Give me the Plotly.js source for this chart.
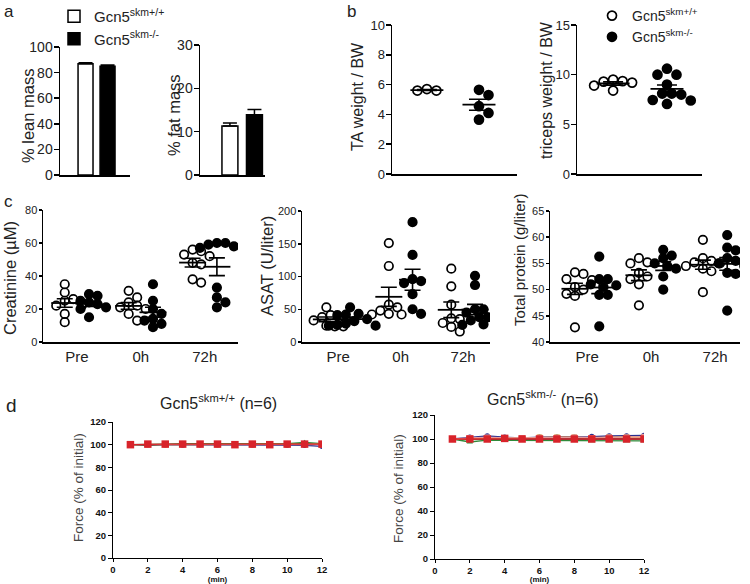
<!DOCTYPE html>
<html><head><meta charset="utf-8">
<script src="https://cdn.plot.ly/plotly-3.0.1.min.js"></script>
<style>html,body{margin:0;padding:0;background:#fff}#chart{width:750px;height:584px}</style>
</head><body><div id="chart"></div>
<script>
// ---------------- data ----------------
const groupNames = ['Gcn5<sup>skm+/+</sup>', 'Gcn5<sup>skm-/-</sup>'];
const leanMean = [87, 85];
const leanSem = [0.6, 0.9];
const fatMean = [11.3, 13.9];
const fatSem = [0.7, 1.2];

const taWT = [5.6, 5.7, 5.6];
const taKO = [5.3, 5.65, 4.55, 4.1, 3.65];
const tricepsWT = [8.9, 9.35, 9.3, 9.2, 9.5, 8.4];
const tricepsKO = [10.6, 10.0, 10.0, 9.0, 8.1, 8.0, 8.1, 7.05, 7.45, 7.4];

const timepoints = ['Pre', '0h', '72h'];
const creatWT = [[35,30,26,25,22,22,17,12],[31,27,24,22,21,20,17,13],[56,55,53,52,48,47,38,36]];
const creatKO = [[29,28,25,24,23,21,20,15],[35,25,20,17,14,13,11,9],[60,60,59,58,57,57,33,27,24,21]];
const asatWT = [[53,41,38,38,33,25,24,24],[151,116,57,53,48,43,42,42],[112,85,57,36,35,29,23,16]];
const asatKO = [[53,43,42,41,35,32,28,26,25,25],[183,133,96,93,90,73,50,43],[101,87,50,50,45,38,38,33,27,26]];
const protWT = [[53.3,53,52,51.8,50.5,50,49.2,48.8,42.8],[56,55.2,55,53.2,52.5,52,51,47],[59.5,56,55.5,55.2,55,54.5,54,53.5,49.5]];
const protKO = [[56.3,52,52,51,50.8,50.5,49,49,43],[57.6,56.5,56,55,54.5,54,52.5,50],[60.4,58,57.5,56,55.5,55,54.5,53.2,53,46]];

const minutes = [1,2,3,4,5,6,7,8,9,10,11,12];
const forceWT = {
  blue:   [100,100,100,99.5,100,100,99.5,99.5,99.5,99.5,99.5,98.5],
  black:  [100,99.5,100,100,100,100,100,100.5,100,100.5,101,100],
  green:  [100,100,100.5,101,101,100.5,100.5,101,100.5,101,102,101],
  orange: [100,100,100,100.5,100.5,100,100,100,100,100,100.5,100.5],
  pink:   [100,100,100.5,100,100.5,100.5,100,100,100,100.5,100.5,100],
  red:    [100,100.5,100.5,100.5,100.5,100.5,100,100.5,100,100.5,100.5,100.5]
};
const forceKO = {
  blue:   [100,101.5,102.5,101.5,101,101.5,101.5,101.5,102,102.5,102.5,103],
  green:  [100,97.5,99,99,99,99,99,99,98.5,98.5,98.5,98.5],
  black:  [100,100,100,100,100,100,100,100,100,100,100,100],
  orange: [100,100.5,101,101,101,101.5,101.5,101.5,101,101.5,101.5,101.5],
  pink:   [100,101,101.5,101,101,101,101,101.5,101,101.5,101.5,102],
  red:    [100,100,100,100.5,100,100,100,100,100,100,100,100]
};

// ---------------- layout geometry ----------------
const W = 750, H = 584;
const FONT = 'Liberation Sans, Arial, sans-serif';
const G = {
  lean:  {x:[60,130],  y:[47,175],  xr:[-1.16,2.02], yr:[0,100]},
  fat:   {x:[200,265], y:[45,175],  xr:[-1.22,1.43], yr:[0,30]},
  ta:    {x:[392,517], y:[25,174],  xr:[-0.67,1.73], yr:[0,10]},
  tri:   {x:[577,702], y:[25,174],  xr:[-0.67,1.65], yr:[0,15]},
  creat: {x:[43,238],  y:[210,342], xr:[-0.53,2.52],  yr:[0,80]},
  asat:  {x:[302,490], y:[211,342], xr:[-0.58,2.43], yr:[0,200]},
  prot:  {x:[550,740], y:[211,342], xr:[-0.58,2.39], yr:[40,65]},
  fl:    {x:[113,322], y:[422,558], xr:[0,12], yr:[0,120]},
  fr:    {x:[435,644], y:[415,559], xr:[0,12], yr:[0,120]}
};
const xd = g => [g.x[0]/W, g.x[1]/W];
const yd = g => [1-g.y[1]/H, 1-g.y[0]/H];

function meanSem(a){
  const n=a.length, m=a.reduce((s,v)=>s+v,0)/n;
  const sd=Math.sqrt(a.reduce((s,v)=>s+(v-m)*(v-m),0)/(n-1));
  return {m, s: sd/Math.sqrt(n)};
}
function swarm(vals, cx, g, diam){
  const sx=(g.x[1]-g.x[0])/(g.xr[1]-g.xr[0]);
  const sy=(g.y[1]-g.y[0])/(g.yr[1]-g.yr[0]);
  const idx=vals.map((v,i)=>i).sort((a,b)=>vals[b]-vals[a]);
  const placed=[]; const out=new Array(vals.length);
  const step=diam*0.5;
  idx.forEach(i=>{
    const py=vals[i]*sy;
    for(let k=0;k<80;k++){
      const off=(k%2?1:-1)*Math.ceil(k/2)*step;
      if(placed.every(p=>(p.ox-off)**2+(p.py-py)**2>=diam*diam*0.92)){
        placed.push({ox:off,py}); out[i]=cx+off/sx; break;
      }
    }
  });
  return out;
}

const traces=[];
// ---- panel a bars ----
[['lean',leanMean,leanSem,'x','y',0.68],['fat',fatMean,fatSem,'x2','y2',0.65]].forEach(([key,mean,sem,xa,ya,bw],pi)=>{
  [0,1].forEach(gi=>{
    traces.push({type:'bar',x:[gi],y:[mean[gi]],width:bw,xaxis:xa,yaxis:ya,
      name:groupNames[gi],legend:'legend',showlegend:pi===0,
      marker:{color:gi?'#000':'#fff',line:{color:'#000',width:1.5}},
      error_y:{type:'data',symmetric:false,array:[sem[gi]],arrayminus:[0],color:'#000',thickness:1.5,width:7}});
  });
});

// ---- dot plots helper ----
function addDots(g, xa, ya, groups, centers, diam, msize, meanLen, cap, showleg){
  const means=[];
  groups.forEach((vals,gi)=>{
    traces.push({type:'scatter',mode:'markers',xaxis:xa,yaxis:ya,
      x:swarm(vals,centers[gi],g,diam),y:vals,
      name:groupNames[gi%2],legend:'legend2',showlegend:!!showleg && gi<2,
      marker:{symbol:gi%2?'circle':'circle-open',size:msize,color:'#000',line:{color:'#000',width:1.7}}});
    means.push([centers[gi],meanSem(vals)]);
  });
  means.forEach(([cx,ms])=>{
    traces.push({type:'scatter',mode:'markers',xaxis:xa,yaxis:ya,x:[cx],y:[ms.m],showlegend:false,hoverinfo:'skip',
      marker:{symbol:'line-ew',size:meanLen/1.4,color:'#000',line:{color:'#000',width:1.8}},
      error_y:{type:'data',array:[ms.s],color:'#000',thickness:1.6,width:cap/2}});
  });
}
addDots(G.ta,'x3','y3',[taWT,taKO],[0,1],9.5,9,33,20,true);
addDots(G.tri,'x4','y4',[tricepsWT,tricepsKO],[0,1],9.5,9,33,20,false);
function cPanel(g,xa,ya,wt,ko){
  const groups=[],centers=[];
  timepoints.forEach((t,ti)=>{groups.push(wt[ti]);centers.push(ti-0.19);groups.push(ko[ti]);centers.push(ti+0.19);});
  addDots(g,xa,ya,groups,centers,8.5,8.5,27,16,false);
}
cPanel(G.creat,'x5','y5',creatWT,creatKO);
cPanel(G.asat,'x6','y6',asatWT,asatKO);
cPanel(G.prot,'x7','y7',protWT,protKO);

// ---- panel d ----
const seriesStyle={
  blue:{c:'#2a2f8f',s:'circle'}, black:{c:'#111',s:'triangle-up'}, green:{c:'#2f8a3a',s:'triangle-up'},
  orange:{c:'#e58a35',s:'square'}, pink:{c:'#e89a9a',s:'square'}, red:{c:'#d8232a',s:'square'}
};
[[forceWT,'x8','y8'],[forceKO,'x9','y9']].forEach(([set,xa,ya])=>{
  Object.keys(set).forEach(k=>{
    traces.push({type:'scatter',mode:'lines+markers',xaxis:xa,yaxis:ya,x:minutes,y:set[k],showlegend:false,
      line:{color:seriesStyle[k].c,width:1.3},marker:{symbol:seriesStyle[k].s,size:k==='red'?7.5:5.5,color:seriesStyle[k].c}});
  });
});

// ---------------- axes ----------------
function yax(g,opts){return Object.assign({domain:yd(g),range:g.yr,showline:true,linecolor:'#000',linewidth:1.5,
  ticks:'outside',ticklen:5,tickcolor:'#000',tickwidth:1.5,showgrid:false,zeroline:false,ticklabelstandoff:-2,
  tickfont:{family:FONT,size:13,color:'#222'}},opts);}
function xax(g,opts){return Object.assign({domain:xd(g),range:g.xr,showline:true,linecolor:'#000',linewidth:1.5,
  ticks:'',showticklabels:false,showgrid:false,zeroline:false,tickfont:{family:FONT,size:15,color:'#222'}},opts);}

const catTicks={tickmode:'array',tickvals:[0,1,2],ticktext:timepoints,showticklabels:true};
const dTick={family:FONT,size:9.5,color:'#111',weight:'bold'};
const dX={showticklabels:true,ticks:'outside',ticklen:3,tickwidth:1,tickcolor:'#000',linewidth:1,dtick:2,tickfont:dTick,
  title:{text:'<b>(min)</b>',standoff:1,font:{family:FONT,size:8,color:'#111'}}};
const cY={ticklen:3,tickfont:{family:FONT,size:11,color:'#222'},ticklabelstandoff:-1};

// y-axis titles: [text, centre x px, centre y px, size, colour]
const yTitles=[
  ['% lean mass',28,116,16.5,'#222'],
  ['% fat mass',174,115,16.5,'#222'],
  ['TA weight / BW',358,97,16,'#222'],
  ['triceps weight / BW',546,90,16,'#222'],
  ['Creatinine (µM)',10,278,16.5,'#222'],
  ['ASAT (U/liter)',267,266,16.5,'#222'],
  ['Total protein (g/liter)',519,260,15,'#222'],
  ['Force (% of initial)',78,488,13.5,'#444'],
  ['Force (% of initial)',398,488,13.5,'#444']
];
const labels=[
  ['a',2,0,17],['b',345,0,17],['c',2,190,17],['d',4,393,19]
];

const layout={
  width:W,height:H,margin:{l:0,r:0,t:0,b:0,autoexpand:false},paper_bgcolor:'#fff',plot_bgcolor:'rgba(0,0,0,0)',
  font:{family:FONT,color:'#222'},bargap:0,
  xaxis: xax(G.lean,{anchor:'y'}),
  yaxis: yax(G.lean,{anchor:'x',dtick:20,tickfont:{family:FONT,size:14,color:'#222'}}),
  xaxis2: xax(G.fat,{anchor:'y2'}),
  yaxis2: yax(G.fat,{anchor:'x2',dtick:10,tickfont:{family:FONT,size:14,color:'#222'}}),
  xaxis3: xax(G.ta,{anchor:'y3'}),
  yaxis3: yax(G.ta,{anchor:'x3',dtick:2}),
  xaxis4: xax(G.tri,{anchor:'y4'}),
  yaxis4: yax(G.tri,{anchor:'x4',dtick:5}),
  xaxis5: xax(G.creat,Object.assign({anchor:'y5'},catTicks)),
  yaxis5: yax(G.creat,Object.assign({anchor:'x5',dtick:20},cY)),
  xaxis6: xax(G.asat,Object.assign({anchor:'y6'},catTicks)),
  yaxis6: yax(G.asat,Object.assign({anchor:'x6',dtick:50},cY)),
  xaxis7: xax(G.prot,Object.assign({anchor:'y7'},catTicks)),
  yaxis7: yax(G.prot,Object.assign({anchor:'x7',dtick:5},cY)),
  xaxis8: xax(G.fl,Object.assign({anchor:'y8'},dX)),
  yaxis8: yax(G.fl,{anchor:'x8',dtick:20,ticklen:4,tickwidth:1,linewidth:1,tickfont:dTick,ticklabelstandoff:0}),
  xaxis9: xax(G.fr,Object.assign({anchor:'y9'},dX)),
  yaxis9: yax(G.fr,{anchor:'x9',dtick:20,ticklen:4,tickwidth:1,linewidth:1,tickfont:dTick,ticklabelstandoff:0}),
  legend:{x:54/W,y:1,xanchor:'left',yanchor:'top',bgcolor:'rgba(0,0,0,0)',font:{family:FONT,size:15,color:'#222'},tracegroupgap:0,itemwidth:30},
  legend2:{x:592/W,y:1,xanchor:'left',yanchor:'top',bgcolor:'rgba(0,0,0,0)',font:{family:FONT,size:14,color:'#222'},tracegroupgap:0,itemwidth:30},
  annotations:[].concat(
    labels.map(([t,x,y,s])=>({text:t,x:x/W,y:1-y/H,xref:'paper',yref:'paper',xanchor:'left',yanchor:'top',showarrow:false,font:{family:FONT,size:s,color:'#222'}})),
    yTitles.map(([t,x,y,s,c])=>({text:t,x:x/W,y:1-y/H,xref:'paper',yref:'paper',xanchor:'center',yanchor:'middle',textangle:-90,showarrow:false,font:{family:FONT,size:s,color:c}})),
    [['Gcn5<sup>skm+/+</sup> (n=6)',218,402],['Gcn5<sup>skm-/-</sup> (n=6)',543,398]].map(([t,x,y])=>({text:t,x:x/W,y:1-y/H,xref:'paper',yref:'paper',xanchor:'center',yanchor:'middle',showarrow:false,font:{family:FONT,size:16,color:'#222'}}))
  )
};
Plotly.newPlot('chart',traces,layout,{displayModeBar:false,staticPlot:true});
</script></body></html>
